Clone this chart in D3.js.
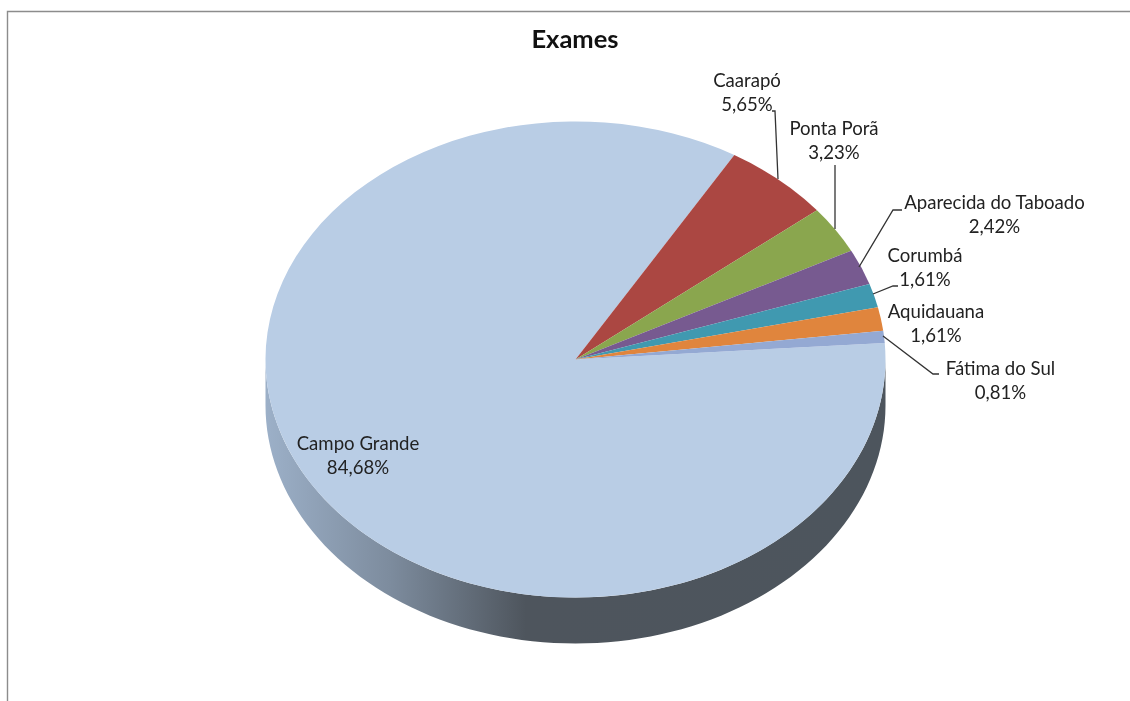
<!DOCTYPE html>
<html><head><meta charset="utf-8">
<script src="https://cdn.jsdelivr.net/npm/d3@7"></script>
<style>html,body{margin:0;padding:0;background:#fff}svg{display:block;filter:blur(0.4px)}</style>
</head><body><svg id="c" width="1130" height="701"></svg>
<script>
const categories = ["Campo Grande","Caarapó","Ponta Porã","Aparecida do Taboado","Corumbá","Aquidauana","Fátima do Sul"];
const values = [84.68,5.65,3.23,2.42,1.61,1.61,0.81];
const labels = ["84,68%","5,65%","3,23%","2,42%","1,61%","1,61%","0,81%"];
const colors = ["#b9cde5","#ab4742","#8aa64e","#775a90","#4099b0","#e0853d","#94a9d3"];
const title = "Exames";
const labelPos = [[358,450],[747,87],[834,135],[994.5,209],[925,262],[936,318],[1000.5,375]];
const leaders = [null,
 [[772,111],[775,111],[778,179]],
 [[835,165],[835,229]],
 [[902,210],[893,210],[859,267]],
 [[898,286],[893,286],[873,294]],
 null,
 [[883,336],[933,374],[939,374]]];

const cx=575.5,cy=359.5,rx=310,ry=238,depth=46;
const svg=d3.select("#c");
const font="Lato, Carlito, sans-serif";
svg.append("path").attr("d",d3.line()([[7.5,701],[7.5,11.5],[1130,11.5]])).attr("fill","none").attr("stroke","#8c8c8c").attr("stroke-width",1.4);

const defs=svg.append("defs");
const g=defs.append("linearGradient").attr("id","wall").attr("gradientUnits","userSpaceOnUse").attr("x1",cx-rx).attr("x2",cx+rx).attr("y1",0).attr("y2",0);
[[0,"#9cb0c8"],[0.2,"#7d8c9e"],[0.42,"#4e555d"],[1,"#4d555d"]].forEach(s=>g.append("stop").attr("offset",s[0]).attr("stop-color",s[1]));

const sx=d3.scaleLinear().domain([-1,1]).range([cx-rx,cx+rx]);
const sy=d3.scaleLinear().domain([-1,1]).range([cy-ry,cy+ry]);
const lower=d3.range(0,181,2).map(a=>{const t=a*Math.PI/180;return [sx(-Math.cos(t)),sy(Math.sin(t))+depth];});
const upper=d3.range(180,-1,-2).map(a=>{const t=a*Math.PI/180;return [sx(-Math.cos(t)),sy(Math.sin(t))];});
svg.append("path").attr("d",d3.line()(lower.concat(upper))+"Z").attr("fill","url(#wall)");

const start=86*Math.PI/180;
const pie=d3.pie().sort(null).startAngle(start).endAngle(start+2*Math.PI)(values);
const arc=d3.arc().innerRadius(0).outerRadius(rx);
svg.append("g").attr("transform",`translate(${cx},${cy}) scale(1,${ry/rx})`)
 .selectAll("path").data(pie).join("path").attr("d",arc).attr("fill",(d,i)=>colors[i]);

svg.append("g").selectAll("path").data(leaders.filter(Boolean)).join("path")
 .attr("d",d3.line()).attr("fill","none").attr("stroke","#333").attr("stroke-width",1.3);

svg.append("text").attr("x",575).attr("y",48).attr("text-anchor","middle")
 .attr("font-family",font).attr("font-weight",700).attr("font-size",25.5).attr("fill","#111").text(title);
const t=svg.append("g").attr("font-family",font).attr("font-size",18.6).attr("fill","#222").attr("text-anchor","middle");
categories.forEach((c,i)=>{
 const p=labelPos[i];
 t.append("text").attr("x",p[0]).attr("y",p[1]).text(c);
 t.append("text").attr("x",p[0]).attr("y",p[1]+24).text(labels[i]);
});
</script></body></html>
